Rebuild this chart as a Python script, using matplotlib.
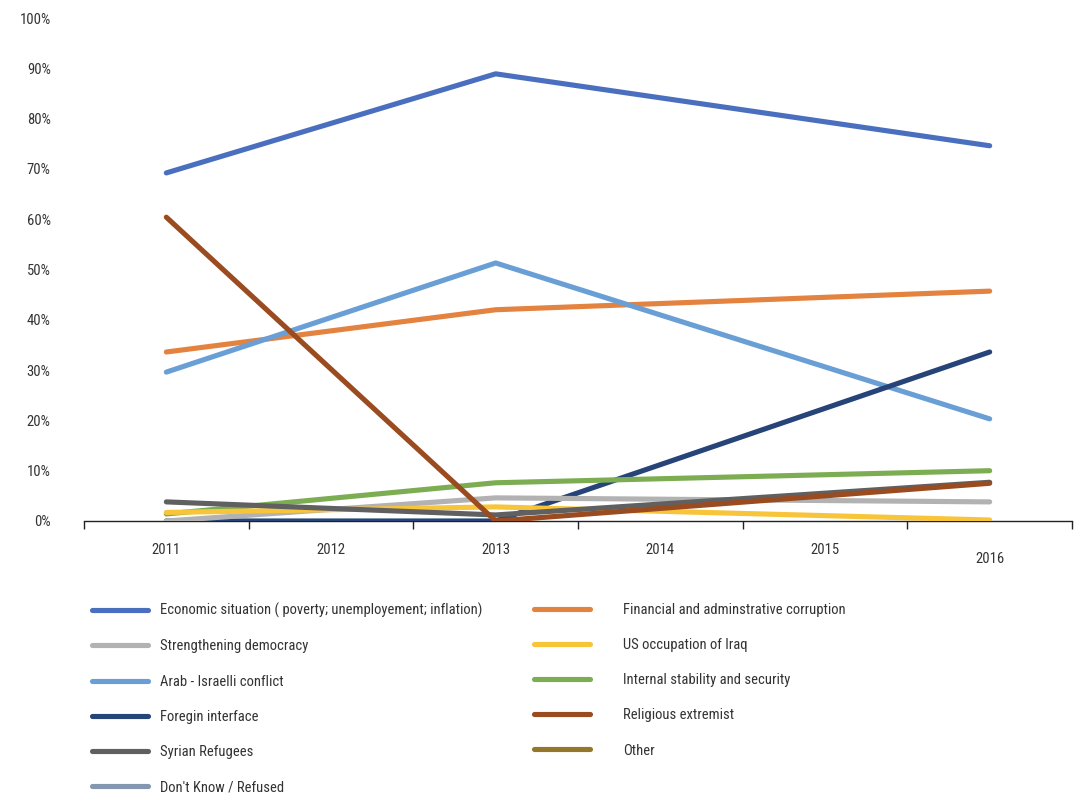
import numpy as np
import matplotlib
matplotlib.use('Agg')
import matplotlib.pyplot as plt
from matplotlib import font_manager

years = ['2011', '2012', '2013', '2014', '2015', '2016']
yidx = [0, 2, 5]   # only 2011, 2013, 2016 have data

labels = ['Economic situation ( poverty; unemployement; inflation)',
          'Strengthening democracy',
          'Arab - Israelli conflict',
          'Foregin interface',
          'Syrian Refugees',
          "Don't Know / Refused",
          'Financial and adminstrative corruption',
          'US occupation of Iraq',
          'Internal stability and security',
          'Religious extremist',
          'Other']

economic = [69.2, 88.9, 74.6]
democracy = [0.0, 4.6, 3.8]
arab_israeli = [29.6, 51.3, 20.3]
foreign = [0.0, 0.0, 33.6]
syrian = [3.8, 1.2, 7.7]
dont_know = [np.nan, np.nan, np.nan]
corruption = [33.6, 42.0, 45.7]
us_iraq = [1.7, 2.8, 0.2]
stability = [1.4, 7.6, 10.0]
religious = [60.4, 0.0, 7.5]
other = [np.nan, np.nan, np.nan]

series = [economic, democracy, arab_israeli, foreign, syrian, dont_know,
          corruption, us_iraq, stability, religious, other]
colors = ['#4A6FBF', '#B2B2B2', '#6A9FD6', '#264478', '#606060', '#8497B0',
          '#E4823F', '#F8C43A', '#7CAD52', '#9A4B1F', '#94772B']

# a narrow face is closest to the original's condensed type
names = {f.name for f in font_manager.fontManager.ttflist}
fam = 'DejaVu Sans'
for cand in ['Roboto Condensed', 'Open Sans Condensed', 'Liberation Sans Narrow',
             'Noto Sans Condensed', 'DejaVu Sans Condensed']:
    if cand in names:
        fam = cand
        break
plt.rcParams['font.family'] = [fam, 'DejaVu Sans']
plt.rcParams['font.stretch'] = 'condensed'

txt = '#333333'
fs = 10.5

fig = plt.figure(figsize=(10.76, 7.95), dpi=100)
ax = fig.add_axes([84/1076, 1 - 521/795, 988/1076, 503/795])

# draw back to front like the original
order = [0, 6, 2, 3, 8, 1, 7, 4, 9, 5, 10]
for i in order:
    ax.plot(yidx, series[i], color=colors[i], lw=3.7, solid_capstyle='round',
            label=labels[i], zorder=3)

ax.set_xlim(-0.5, 5.5)
ax.set_ylim(0, 100)
for s in ['top', 'right', 'left']:
    ax.spines[s].set_visible(False)
ax.spines['bottom'].set_color('#222222')
ax.spines['bottom'].set_linewidth(1.0)

ax.set_xticks(np.arange(-0.5, 6, 1))
ax.set_xticklabels([])
ax.tick_params(axis='x', which='major', length=6, width=1, color='#222222')
ax.set_xticks(range(6), minor=True)
ax.set_xticklabels(years, minor=True, fontsize=fs, color=txt)
ax.tick_params(axis='x', which='minor', length=0, pad=16)
ax.xaxis.get_minor_ticks()[5].set_pad(22)

ax.set_yticks(range(0, 101, 10))
ax.set_yticklabels([f'{v}%' for v in range(0, 101, 10)], fontsize=fs, color=txt)
ax.tick_params(axis='y', length=0, pad=24)

handles, labs = ax.get_legend_handles_labels()
hmap = dict(zip(labs, handles))
px = fs * 100 / 72
common = dict(loc='upper left', frameon=False, fontsize=fs, borderpad=0,
              borderaxespad=0, handlelength=56/px, labelspacing=1.45,
              labelcolor=txt)
leg1 = fig.legend([hmap[l] for l in labels[:6]], labels[:6],
                  bbox_to_anchor=(92/1076, 1 - 603/795),
                  handletextpad=12/px, **common)
leg2 = fig.legend([hmap[l] for l in labels[6:]], labels[6:],
                  bbox_to_anchor=(534/1076, 1 - 603/795),
                  handletextpad=33/px, **common)

fig.savefig('out.png', dpi=100)
